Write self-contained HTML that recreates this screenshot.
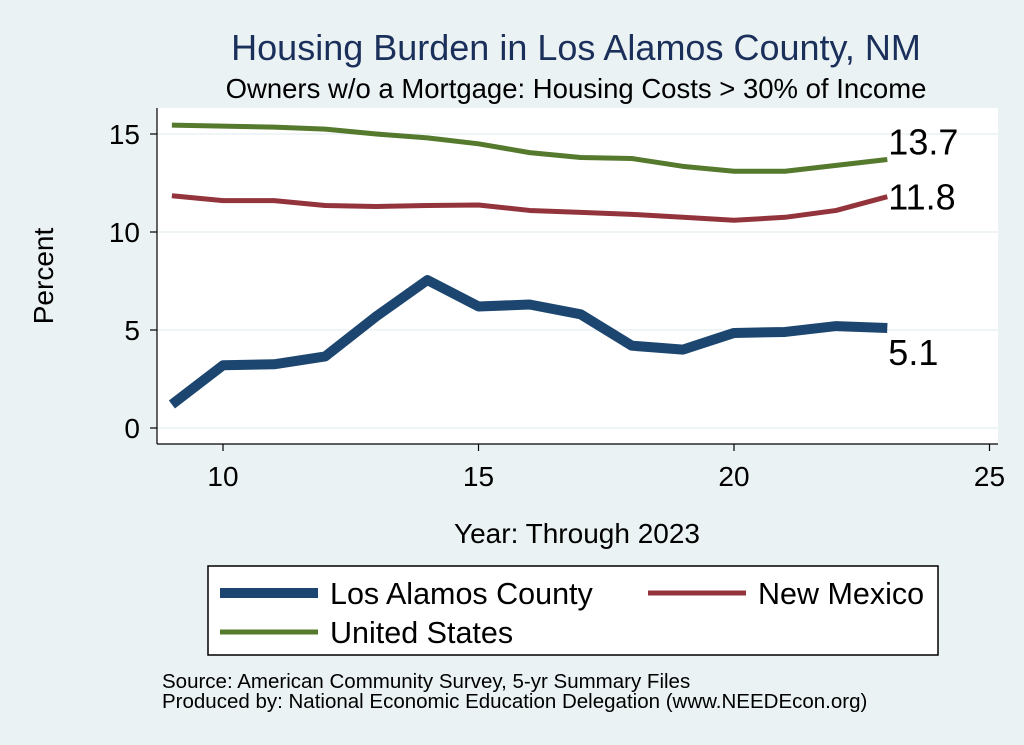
<!DOCTYPE html>
<html><head><meta charset="utf-8"><style>
body{margin:0;width:1024px;height:745px;background:#eaf2f3;font-family:"Liberation Sans",sans-serif;overflow:hidden}
svg{display:block}
</style></head><body>
<svg id="chart" width="1024" height="745">
<rect x="157" y="108" width="841" height="336" fill="#fff"/>
<text x="576" y="60" font-size="36" fill="#1a2f5a" text-anchor="middle">Housing Burden in Los Alamos County, NM</text>
<text x="576" y="98" font-size="27.5" text-anchor="middle">Owners w/o a Mortgage: Housing Costs &gt; 30% of Income</text>
<g id="grid"></g><g id="axes"></g><g id="series"></g>
<text transform="translate(53,276) rotate(-90)" font-size="28" text-anchor="middle">Percent</text>
<text x="577" y="543" font-size="28" text-anchor="middle">Year: Through 2023</text>
<g>
<rect x="208" y="566" width="730" height="89" fill="#fff" stroke="#000" stroke-width="1.5"/>
<line x1="220" y1="593" x2="318" y2="593" stroke="#1c4670" stroke-width="10"/>
<text x="330" y="604" font-size="30.5">Los Alamos County</text>
<line x1="648" y1="593" x2="746" y2="593" stroke="#93343c" stroke-width="5"/>
<text x="758" y="604" font-size="30.5">New Mexico</text>
<line x1="220" y1="632" x2="318" y2="632" stroke="#557a2e" stroke-width="5"/>
<text x="330" y="643" font-size="30.5">United States</text>
</g>
<text x="162" y="688" font-size="20.5">Source: American Community Survey, 5-yr Summary Files</text>
<text x="162" y="708" font-size="20.5">Produced by: National Economic Education Delegation (www.NEEDEcon.org)</text>
</svg>
<script>
const years=[9,10,11,12,13,14,15,16,17,18,19,20,21,22,23];
const losAlamos=[1.2,3.2,3.25,3.65,5.7,7.55,6.2,6.3,5.8,4.2,4.0,4.85,4.9,5.2,5.1];
const newMexico=[11.85,11.6,11.6,11.35,11.3,11.35,11.38,11.1,11.0,10.9,10.75,10.6,10.75,11.1,11.8];
const unitedStates=[15.45,15.4,15.35,15.25,15.0,14.8,14.5,14.05,13.8,13.75,13.35,13.1,13.1,13.4,13.7];
const xTicks=[10,15,20,25];
const yTicks=[0,5,10,15];
const NS='http://www.w3.org/2000/svg';
const sx=v=>223+(v-10)*51.1;
const sy=v=>428-v*19.6;
function mk(tag,attrs,parent){const e=document.createElementNS(NS,tag);for(const k in attrs)e.setAttribute(k,attrs[k]);parent.appendChild(e);return e;}
const grid=document.getElementById('grid'),axes=document.getElementById('axes'),ser=document.getElementById('series');
yTicks.forEach(t=>{
 const g=mk('line',{x1:157,x2:998,y1:sy(t),y2:sy(t),stroke:'#eaf2f3','stroke-width':1.5},grid);
 
 
 mk('line',{x1:150,x2:157,y1:sy(t),y2:sy(t),stroke:'#000','stroke-width':1.2},axes);
 const tx=mk('text',{x:140,y:sy(t)+10,'font-size':28,'text-anchor':'end'},axes);tx.textContent=t;
 
 
});
xTicks.forEach(t=>{
 mk('line',{x1:sx(t),x2:sx(t),y1:444,y2:451,stroke:'#000','stroke-width':1.2},axes);
 const tx=mk('text',{x:sx(t),y:486,'font-size':28,'text-anchor':'middle'},axes);tx.textContent=t;
 
 
});
mk('line',{x1:157,x2:157,y1:108,y2:444,stroke:'#000','stroke-width':1.2},axes);
mk('line',{x1:157,x2:998,y1:444,y2:444,stroke:'#000','stroke-width':1.2},axes);
function line(vals,color,w,name,dx,dy){
 const p=mk('polyline',{points:vals.map((v,i)=>sx(years[i])+','+sy(v)).join(' '),fill:'none',stroke:color,'stroke-width':w,'stroke-linejoin':'round'},ser);
 
 
 const last=vals[vals.length-1];
 const t=mk('text',{x:sx(years[years.length-1])+dx,y:sy(last)+dy,'font-size':36},ser);t.textContent=last.toFixed(1);
 
 
}
line(unitedStates,'#557a2e',5,'united-states-line',1,-5);
line(newMexico,'#93343c',5,'new-mexico-line',1,13);
line(losAlamos,'#1c4670',10,'los-alamos-line',1,37);
</script>
</body></html>
